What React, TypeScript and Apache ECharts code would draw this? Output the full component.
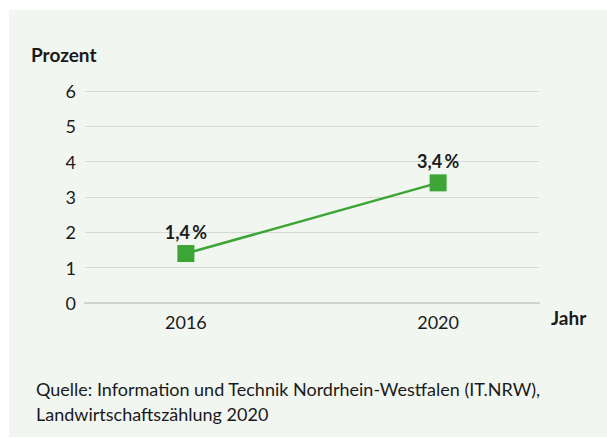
import React, { useEffect, useRef } from "react";
import * as echarts from "echarts";

const years = [2016, 2020];
const shares = [1.4, 3.4];
const shareLabels = ["1,4\u2009%", "3,4\u2009%"];
const yTicks = [0, 1, 2, 3, 4, 5, 6];
const yAxisTitle = "Prozent";
const xAxisTitle = "Jahr";
const sourceLines = [
  "Quelle: Information und Technik Nordrhein-Westfalen (IT.NRW),",
  "Landwirtschaftszählung 2020",
];

const FONT = "Lato, 'Open Sans', sans-serif";
const TEXT = "#1a1a1a";
const GREEN = "#3ca535";

export default function App() {
  const ref = useRef<HTMLDivElement>(null);
  useEffect(() => {
    if (!ref.current) return;
    const chart = echarts.init(ref.current, undefined, { renderer: "svg" });
    chart.setOption({
      animation: false,
      backgroundColor: "#ffffff",
      textStyle: { fontFamily: FONT },
      graphic: [
        {
          type: "rect",
          z: -10,
          shape: { x: 9, y: 10, width: 598, height: 427 },
          style: { fill: "#f2f6f0" },
          silent: true,
        },
        {
          type: "text",
          left: 31,
          top: 45,
          style: { text: yAxisTitle, font: `bold 19px ${FONT}`, fill: TEXT },
        },
        {
          type: "text",
          left: 551,
          top: 308,
          style: { text: xAxisTitle, font: `bold 19px ${FONT}`, fill: TEXT },
        },
        {
          type: "text",
          left: 36,
          top: 376,
          style: {
            text: sourceLines.join("\n"),
            font: `18px ${FONT}`,
            lineHeight: 25,
            fill: TEXT,
          },
        },
      ],
      grid: { left: 85, right: 68, top: 91, bottom: 135, containLabel: false },
      xAxis: {
        type: "value",
        min: 2014.4,
        max: 2021.6,
        axisLine: { show: true, lineStyle: { color: "#cfd2cd", width: 2 } },
        axisTick: { show: false },
        splitLine: { show: false },
        axisLabel: {
          customValues: years,
          formatter: (v: number) => String(v),
          color: TEXT,
          fontSize: 18,
          fontFamily: FONT,
          margin: 10,
        },
      },
      yAxis: {
        type: "value",
        min: yTicks[0],
        max: yTicks[yTicks.length - 1],
        interval: 1,
        axisLine: { show: false },
        axisTick: { show: false },
        splitLine: { lineStyle: { color: "#d6d9d4", width: 1 } },
        axisLabel: { color: TEXT, fontSize: 18, fontFamily: FONT, margin: 9 },
      },
      series: [
        {
          type: "line",
          data: years.map((y, i) => [y, shares[i]]),
          symbol: "rect",
          symbolSize: 17,
          itemStyle: { color: GREEN },
          lineStyle: { color: GREEN, width: 2.5 },
          label: {
            show: true,
            position: "top",
            distance: 4,
            formatter: (p: any) => shareLabels[p.dataIndex],
            color: TEXT,
            fontSize: 18,
            fontWeight: "bold",
            fontFamily: FONT,
          },
        },
      ],
    });
    return () => chart.dispose();
  }, []);
  return (
    <div
      ref={ref}
      style={{ position: "fixed", left: 0, top: 0, width: 607, height: 438 }}
    />
  );
}
